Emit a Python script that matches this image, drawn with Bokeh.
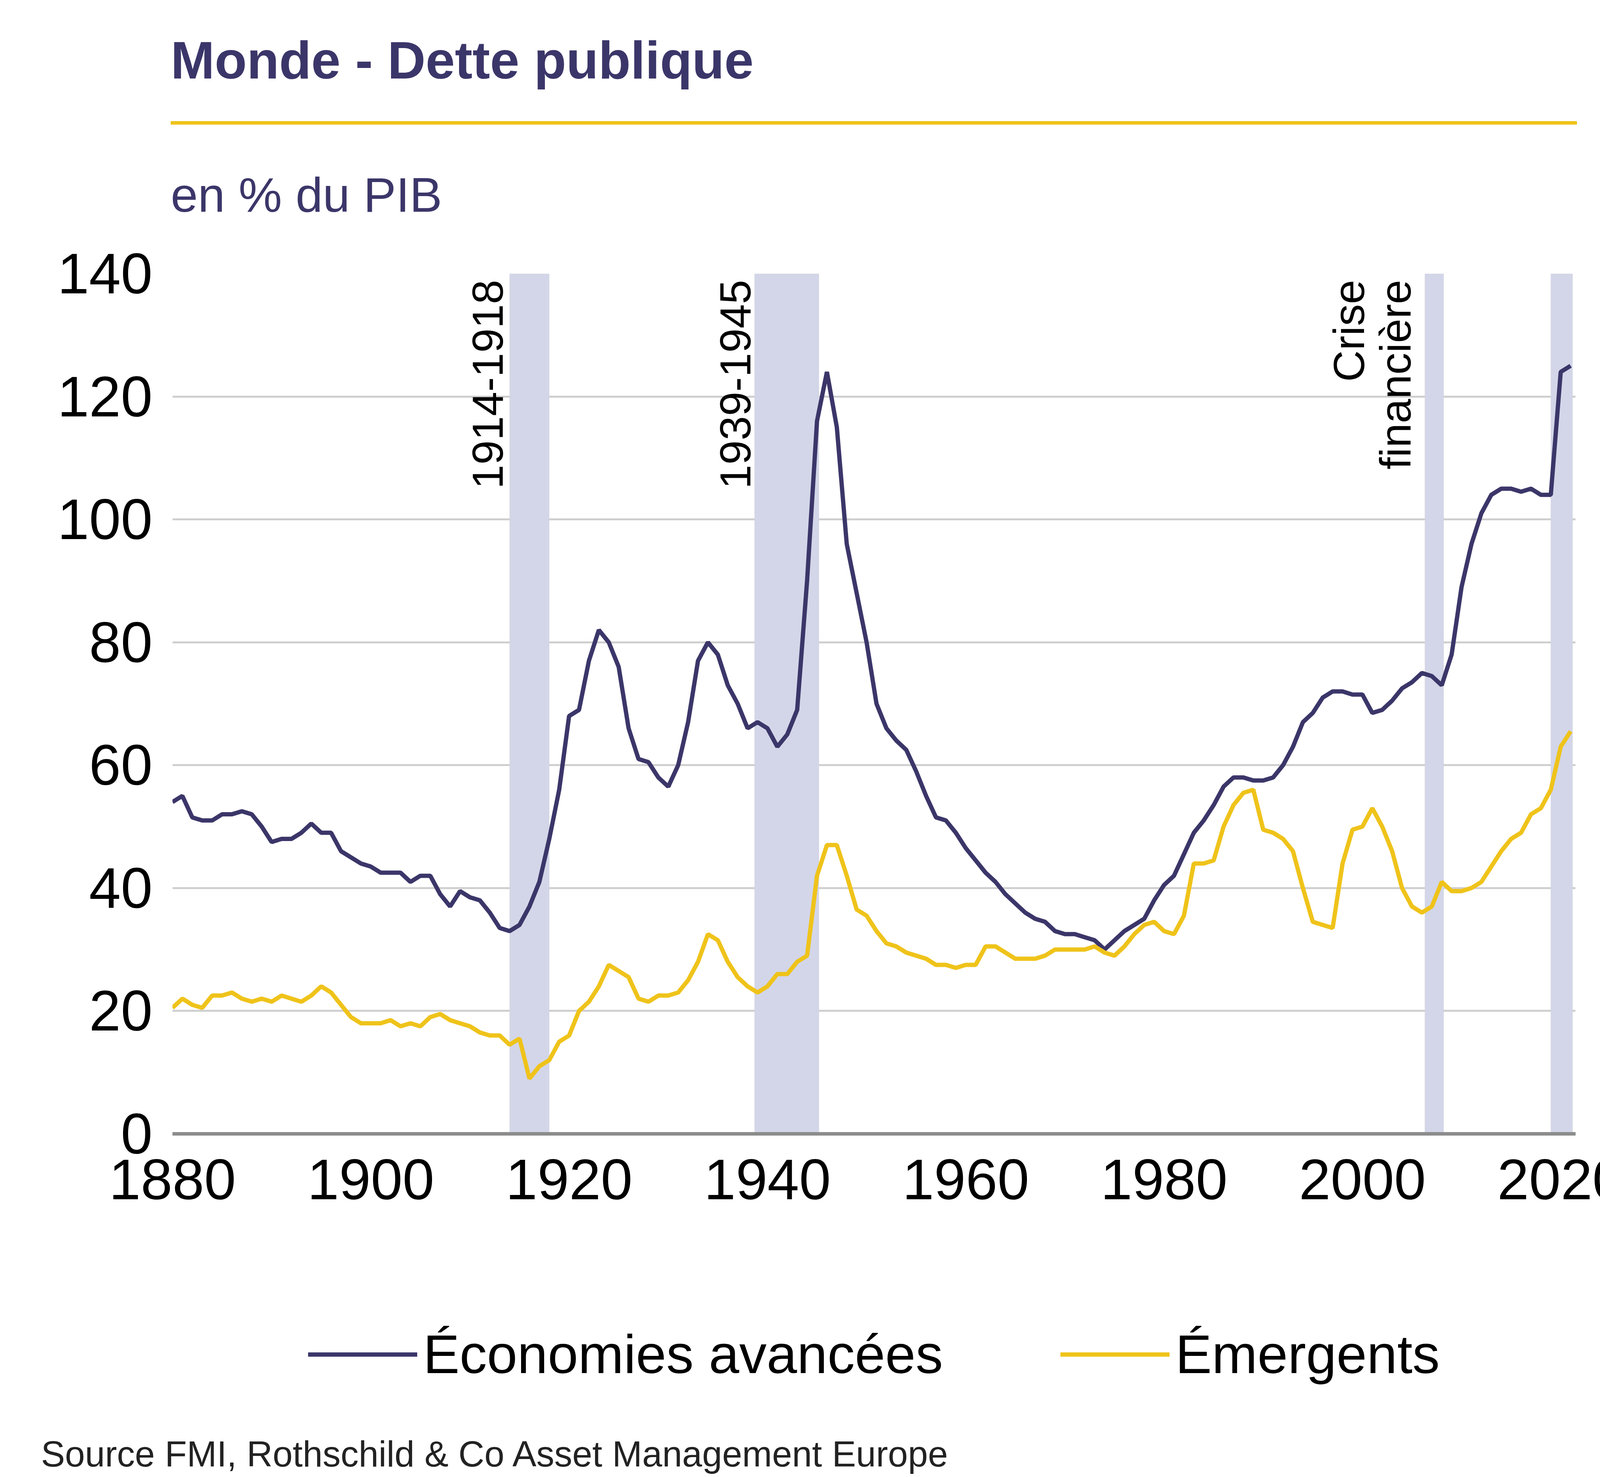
from bokeh.plotting import figure
from bokeh.models import Div, Label, Legend, LegendItem, FixedTicker, BoxAnnotation, Range1d
from bokeh.layouts import column
from bokeh.embed import file_html
from bokeh.resources import INLINE

years = list(range(1880, 2022))
advanced = [54,55,51.5,51,51,52,52,52.5,52,50,47.5,48,48,49,50.5,49,49,46,45,44,
            43.5,42.5,42.5,42.5,41,42,42,39,37,39.5,38.5,38,36,33.5,33,34,37,41,48,56,
            68,69,77,82,80,76,66,61,60.5,58,56.5,60,67,77,80,78,73,70,66,67,
            66,63,65,69,90,116,124,115,96,88,80,70,66,64,62.5,59,55,51.5,51,49,
            46.5,44.5,42.5,41,39,37.5,36,35,34.5,33,32.5,32.5,32,31.5,30,31.5,33,34,35,38,
            40.5,42,45.5,49,51,53.5,56.5,58,58,57.5,57.5,58,60,63,67,68.5,71,72,72,71.5,
            71.5,68.5,69,70.5,72.5,73.5,75,74.5,73,78,89,96,101,104,105,105,104.5,105,104,104,
            124,125]
emerging = [20.5,22,21,20.5,22.5,22.5,23,22,21.5,22,21.5,22.5,22,21.5,22.5,24,23,21,19,18,
            18,18,18.5,17.5,18,17.5,19,19.5,18.5,18,17.5,16.5,16,16,14.5,15.5,9,11,12,15,
            16,20,21.5,24,27.5,26.5,25.5,22,21.5,22.5,22.5,23,25,28,32.5,31.5,28,25.5,24,23,
            24,26,26,28,29,42,47,47,42,36.5,35.5,33,31,30.5,29.5,29,28.5,27.5,27.5,27,
            27.5,27.5,30.5,30.5,29.5,28.5,28.5,28.5,29,30,30,30,30,30.5,29.5,29,30.5,32.5,34,34.5,
            33,32.5,35.5,44,44,44.5,50,53.5,55.5,56,49.5,49,48,46,40,34.5,34,33.5,44,49.5,
            50,53,50,46,40,37,36,37,41,39.5,39.5,40,41,43.5,46,48,49,52,53,56,
            63,65.5]
x_ticks = [1880,1900,1920,1940,1960,1980,2000,2020]
y_ticks = [0,20,40,60,80,100,120,140]
bands = [(1914,1918),(1938.7,1945.2),(2006.3,2008.2),(2019,2021.2)]
band_labels = ["1914-1918","1939-1945","Crise\nfinancière","Confinement"]
band_label_x = [1913.3,1938.3,2005.8,2021.8]
band_label_base = ["bottom","bottom","bottom","top"]

NAVY = "#3b3669"
YELLOW = "#efc31a"
FONT = "Liberation Sans"

header = Div(text=(
    f'<div style="font-family:{FONT};margin-left:432px;width:3600px;">'
    f'<div style="font-size:135px;font-weight:bold;color:{NAVY};line-height:150px;padding-top:75px;">Monde - Dette publique</div>'
    f'<div style="border-top:9px solid {YELLOW};margin-top:80px;"></div>'
    f'<div style="font-size:125px;color:{NAVY};margin-top:110px;line-height:140px;">en % du PIB</div>'
    '</div>'), width=4200, height=600)

p = figure(frame_width=3592, frame_height=2202, output_backend="svg", toolbar_location=None,
           x_range=Range1d(1880, 2021.5), y_range=Range1d(0, 140),
           min_border_left=441, min_border_right=167, min_border_top=90, min_border_bottom=10,
           outline_line_color=None)
for (a, b) in bands:
    p.add_layout(BoxAnnotation(left=a, right=b, fill_color="#d3d6e8", fill_alpha=1.0, level="underlay"))
for t, xx, bl in zip(band_labels, band_label_x, band_label_base):
    p.add_layout(Label(x=xx, y=139, text=t, angle=1.5708, text_align="right", text_baseline=bl,
                       text_font=FONT, text_font_size="112px", text_color="black", text_line_height=0.95))

r1 = p.line(years, advanced, line_color=NAVY, line_width=11)
r2 = p.line(years, emerging, line_color=YELLOW, line_width=11)

p.xaxis.ticker = FixedTicker(ticks=x_ticks)
p.yaxis.ticker = FixedTicker(ticks=y_ticks)
for ax in (p.xaxis, p.yaxis):
    ax.major_label_text_font = FONT
    ax.major_label_text_font_size = "146px"
    ax.major_label_text_color = "black"
    ax.major_tick_line_color = None
    ax.minor_tick_line_color = None
p.xaxis.axis_line_color = "#8c8c8c"
p.xaxis.axis_line_width = 9
p.xaxis.major_label_standoff = 60
p.yaxis.axis_line_color = None
p.yaxis.major_label_standoff = 45
p.xgrid.grid_line_color = None
p.ygrid.grid_line_color = "#cfcfcf"
p.ygrid.grid_line_width = 5

legend = Legend(items=[LegendItem(label="Économies avancées", renderers=[r1]),
                       LegendItem(label="Émergents", renderers=[r2])],
                orientation="horizontal", location="center", border_line_color=None,
                label_text_font=FONT, label_text_font_size="140px", label_text_color="black",
                glyph_width=280, glyph_height=100, spacing=300, margin=40, padding=20, label_standoff=15)
p.add_layout(legend, "below")

source = Div(text=f'<div style="font-family:{FONT};font-size:92px;color:#222;margin-left:100px;">Source FMI, Rothschild &amp; Co Asset Management Europe</div>',
             width=4200, height=180)

layout = column(header, p, source, spacing=0)
open("out.html", "w").write(file_html(layout, INLINE))
